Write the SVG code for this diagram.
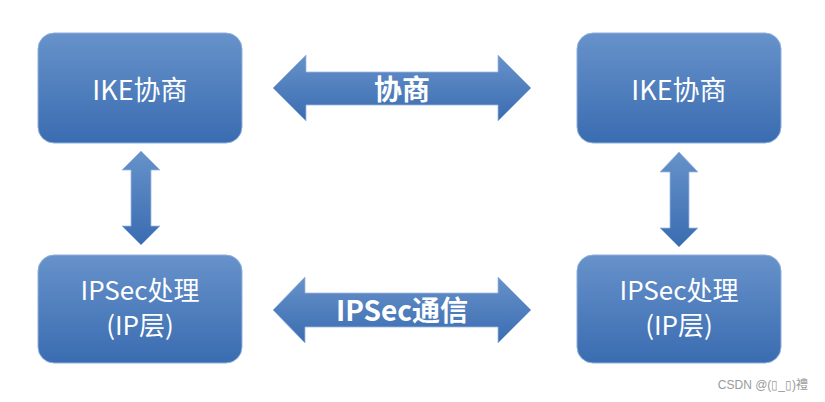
<svg xmlns="http://www.w3.org/2000/svg" width="825" height="402" viewBox="0 0 825 402">
<defs>
<linearGradient id="g" x1="0" y1="0" x2="0" y2="1">
<stop offset="0" stop-color="#6792ca"/>
<stop offset="1" stop-color="#3a6cb1"/>
</linearGradient>
<style>
.box{fill:url(#g);stroke:#8fb0dc;stroke-width:1}
.arr{fill:url(#g);stroke:#9db9e0;stroke-width:0.8}
.t{font-family:"Noto Sans CJK SC","Noto Sans",sans-serif;font-size:27px;fill:#ffffff;text-anchor:middle}
.t2{font-family:"Noto Sans CJK SC","Noto Sans",sans-serif;font-size:26px;fill:#ffffff;text-anchor:middle}
.b{font-family:"Noto Sans CJK SC","Noto Sans",sans-serif;font-size:28px;font-weight:bold;fill:#ffffff;text-anchor:middle}
.w{font-family:"Liberation Sans","Noto Sans CJK SC",sans-serif;font-size:12px;fill:#9a9a9a;text-anchor:end}
</style>
</defs>
<rect width="825" height="402" fill="#ffffff"/>
<g id="connectors">
<g id="arrow-negotiate">
<path class="arr" d="M273,88 L306,55 L306,72 L498,72 L498,55 L531,88 L498,121 L498,105 L306,105 L306,121 Z"/>
<text class="b" x="402" y="100">协商</text>
</g>
<g id="arrow-ipsec">
<path class="arr" d="M273,310 L305,277 L305,293 L498,293 L498,277 L531,310 L498,343 L498,327 L305,327 L305,343 Z"/>
<text class="b" x="402" y="321">IPSec通信</text>
</g>
<path id="arrow-left-v" class="arr" d="M141,151 L160,170 L151,170 L151,226 L160,226 L141,245 L122,226 L131,226 L131,170 L122,170 Z"/>
<path id="arrow-right-v" class="arr" d="M679,152 L698,172 L689,172 L689,228 L698,228 L679,247 L660,228 L670,228 L670,172 L660,172 Z"/>
</g>
<g id="ike-left">
<rect class="box" x="38" y="33" width="204" height="110" rx="16"/>
<text class="t" x="140" y="100">IKE协商</text>
</g>
<g id="ike-right">
<rect class="box" x="577" y="33" width="204" height="110" rx="16"/>
<text class="t" x="679" y="100">IKE协商</text>
</g>
<g id="ipsec-left">
<rect class="box" x="38" y="255" width="204" height="108" rx="16"/>
<text class="t2" x="140" y="300">IPSec处理</text>
<text class="t2" x="140" y="335">(IP层)</text>
</g>
<g id="ipsec-right">
<rect class="box" x="577" y="255" width="204" height="108" rx="16"/>
<text class="t2" x="679" y="300">IPSec处理</text>
<text class="t2" x="679" y="335">(IP层)</text>
</g>
<text class="w" x="808" y="389">CSDN @(▯_▯)禮</text>
</svg>
